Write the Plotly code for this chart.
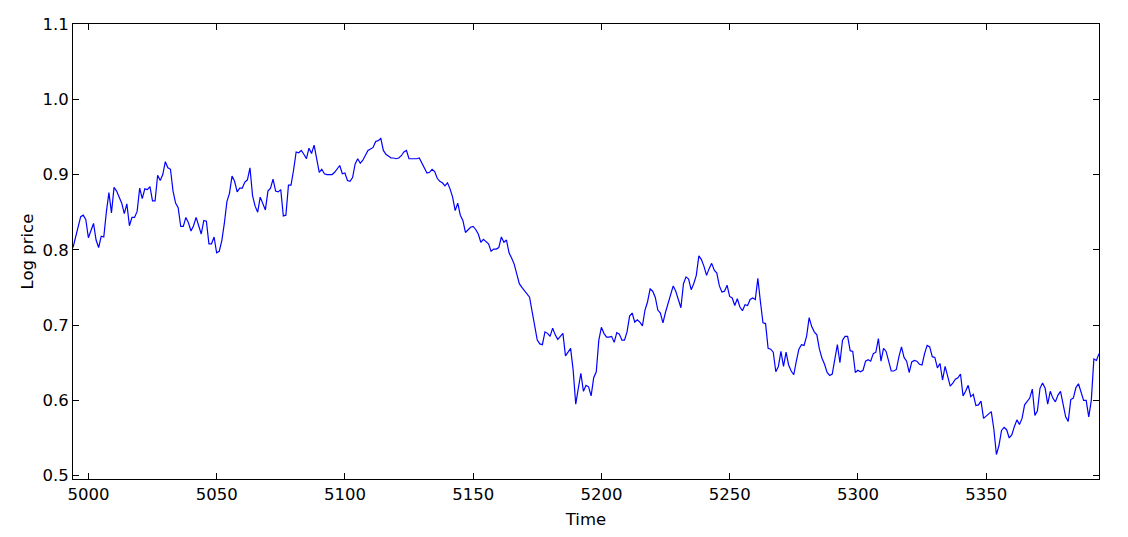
import plotly.graph_objects as go

# time index of the series
time = list(range(4994, 5395))

# log price (one row = 20 steps)
log_price = [
    0.803, 0.818, 0.832, 0.844, 0.846, 0.840, 0.816, 0.826, 0.835, 0.813, 0.803, 0.818, 0.817, 0.850, 0.876, 0.849, 0.883, 0.878, 0.871, 0.862,
    0.848, 0.861, 0.832, 0.843, 0.843, 0.851, 0.882, 0.868, 0.881, 0.880, 0.884, 0.865, 0.865, 0.899, 0.892, 0.900, 0.917, 0.909, 0.907, 0.878,
    0.862, 0.856, 0.831, 0.831, 0.843, 0.836, 0.825, 0.832, 0.843, 0.832, 0.821, 0.839, 0.838, 0.808, 0.808, 0.817, 0.796, 0.798, 0.812, 0.835,
    0.864, 0.875, 0.898, 0.891, 0.877, 0.882, 0.882, 0.890, 0.893, 0.909, 0.872, 0.858, 0.850, 0.870, 0.862, 0.853, 0.878, 0.882, 0.894, 0.878,
    0.877, 0.880, 0.845, 0.846, 0.886, 0.886, 0.906, 0.930, 0.929, 0.932, 0.927, 0.921, 0.935, 0.928, 0.939, 0.921, 0.903, 0.907, 0.901, 0.900,
    0.900, 0.900, 0.903, 0.908, 0.912, 0.901, 0.902, 0.892, 0.891, 0.896, 0.914, 0.921, 0.915, 0.919, 0.926, 0.932, 0.934, 0.936, 0.944, 0.945,
    0.948, 0.932, 0.927, 0.925, 0.922, 0.922, 0.921, 0.922, 0.925, 0.930, 0.932, 0.921, 0.921, 0.920, 0.921, 0.922, 0.915, 0.908, 0.902, 0.903,
    0.907, 0.904, 0.895, 0.891, 0.889, 0.885, 0.889, 0.881, 0.870, 0.852, 0.862, 0.846, 0.839, 0.823, 0.827, 0.830, 0.831, 0.827, 0.821, 0.810,
    0.814, 0.811, 0.808, 0.798, 0.801, 0.801, 0.803, 0.817, 0.810, 0.813, 0.796, 0.789, 0.781, 0.768, 0.755, 0.750, 0.746, 0.741, 0.737, 0.718,
    0.701, 0.680, 0.675, 0.674, 0.691, 0.689, 0.685, 0.696, 0.687, 0.681, 0.685, 0.689, 0.659, 0.664, 0.669, 0.640, 0.595, 0.616, 0.636, 0.612,
    0.620, 0.618, 0.606, 0.630, 0.638, 0.680, 0.697, 0.689, 0.684, 0.684, 0.685, 0.677, 0.690, 0.688, 0.680, 0.680, 0.691, 0.712, 0.716, 0.704,
    0.707, 0.704, 0.699, 0.720, 0.731, 0.748, 0.745, 0.737, 0.720, 0.716, 0.703, 0.717, 0.729, 0.742, 0.752, 0.745, 0.734, 0.723, 0.755, 0.764,
    0.761, 0.747, 0.755, 0.766, 0.792, 0.787, 0.778, 0.766, 0.775, 0.782, 0.773, 0.769, 0.752, 0.744, 0.745, 0.753, 0.738, 0.736, 0.726, 0.735,
    0.724, 0.719, 0.727, 0.726, 0.734, 0.736, 0.734, 0.762, 0.731, 0.703, 0.702, 0.669, 0.668, 0.664, 0.638, 0.645, 0.665, 0.645, 0.664, 0.647,
    0.639, 0.634, 0.652, 0.668, 0.674, 0.673, 0.685, 0.710, 0.698, 0.691, 0.687, 0.668, 0.656, 0.648, 0.637, 0.633, 0.635, 0.652, 0.674, 0.650,
    0.680, 0.685, 0.685, 0.666, 0.665, 0.637, 0.640, 0.638, 0.640, 0.652, 0.654, 0.652, 0.662, 0.664, 0.682, 0.652, 0.669, 0.665, 0.650, 0.639,
    0.639, 0.641, 0.658, 0.671, 0.657, 0.652, 0.637, 0.651, 0.653, 0.652, 0.648, 0.647, 0.662, 0.673, 0.671, 0.658, 0.657, 0.643, 0.649, 0.627,
    0.645, 0.630, 0.619, 0.623, 0.628, 0.630, 0.635, 0.606, 0.612, 0.620, 0.605, 0.608, 0.593, 0.594, 0.599, 0.576, 0.579, 0.583, 0.585, 0.562,
    0.528, 0.540, 0.560, 0.564, 0.561, 0.550, 0.554, 0.565, 0.574, 0.568, 0.576, 0.594, 0.598, 0.603, 0.615, 0.580, 0.586, 0.616, 0.623, 0.616,
    0.595, 0.612, 0.603, 0.598, 0.607, 0.612, 0.595, 0.578, 0.572, 0.601, 0.603, 0.617, 0.622, 0.612, 0.600, 0.600, 0.578, 0.600, 0.655, 0.653,
    0.662,
]

x_ticks = [5000, 5050, 5100, 5150, 5200, 5250, 5300, 5350]
y_ticks = [0.5, 0.6, 0.7, 0.8, 0.9, 1.0, 1.1]
y_labels = ['0.5', '0.6', '0.7', '0.8', '0.9', '1.0', '1.1']

FONT = 'DejaVu Sans'
FSIZE = 16.5

fig = go.Figure()
fig.add_trace(go.Scatter(x=time, y=log_price, mode='lines',
                         line=dict(color='#0000ff', width=1.2),
                         showlegend=False, hoverinfo='skip'))

axis_style = dict(showline=True, linecolor='black', linewidth=1, mirror='ticks',
                  ticks='inside', ticklen=6, tickwidth=1, tickcolor='black',
                  showgrid=False, zeroline=False, automargin=False,
                  tickfont=dict(family=FONT, size=FSIZE, color='black'))

fig.update_xaxes(range=[time[0], time[-1]], tickvals=x_ticks,
                 title=dict(text='Time', font=dict(family=FONT, size=FSIZE, color='black')),
                 **axis_style)
fig.update_yaxes(range=[0.4955, 1.1], tickvals=y_ticks, ticktext=y_labels, **axis_style)

# y title as an annotation so it sits closer to the tick labels
fig.add_annotation(text='Log price', xref='paper', yref='paper', x=0, y=0.5,
                   xshift=-46, textangle=-90, showarrow=False,
                   xanchor='center', yanchor='middle',
                   font=dict(family=FONT, size=FSIZE, color='black'))

# page body has an 8px margin, so the figure is drawn 8px in from the corner
fig.update_layout(width=1112, height=521,
                  margin=dict(l=65, r=21, t=16, b=50),
                  paper_bgcolor='white', plot_bgcolor='white',
                  font=dict(family=FONT, color='black'))

fig.write_html("out.html")
